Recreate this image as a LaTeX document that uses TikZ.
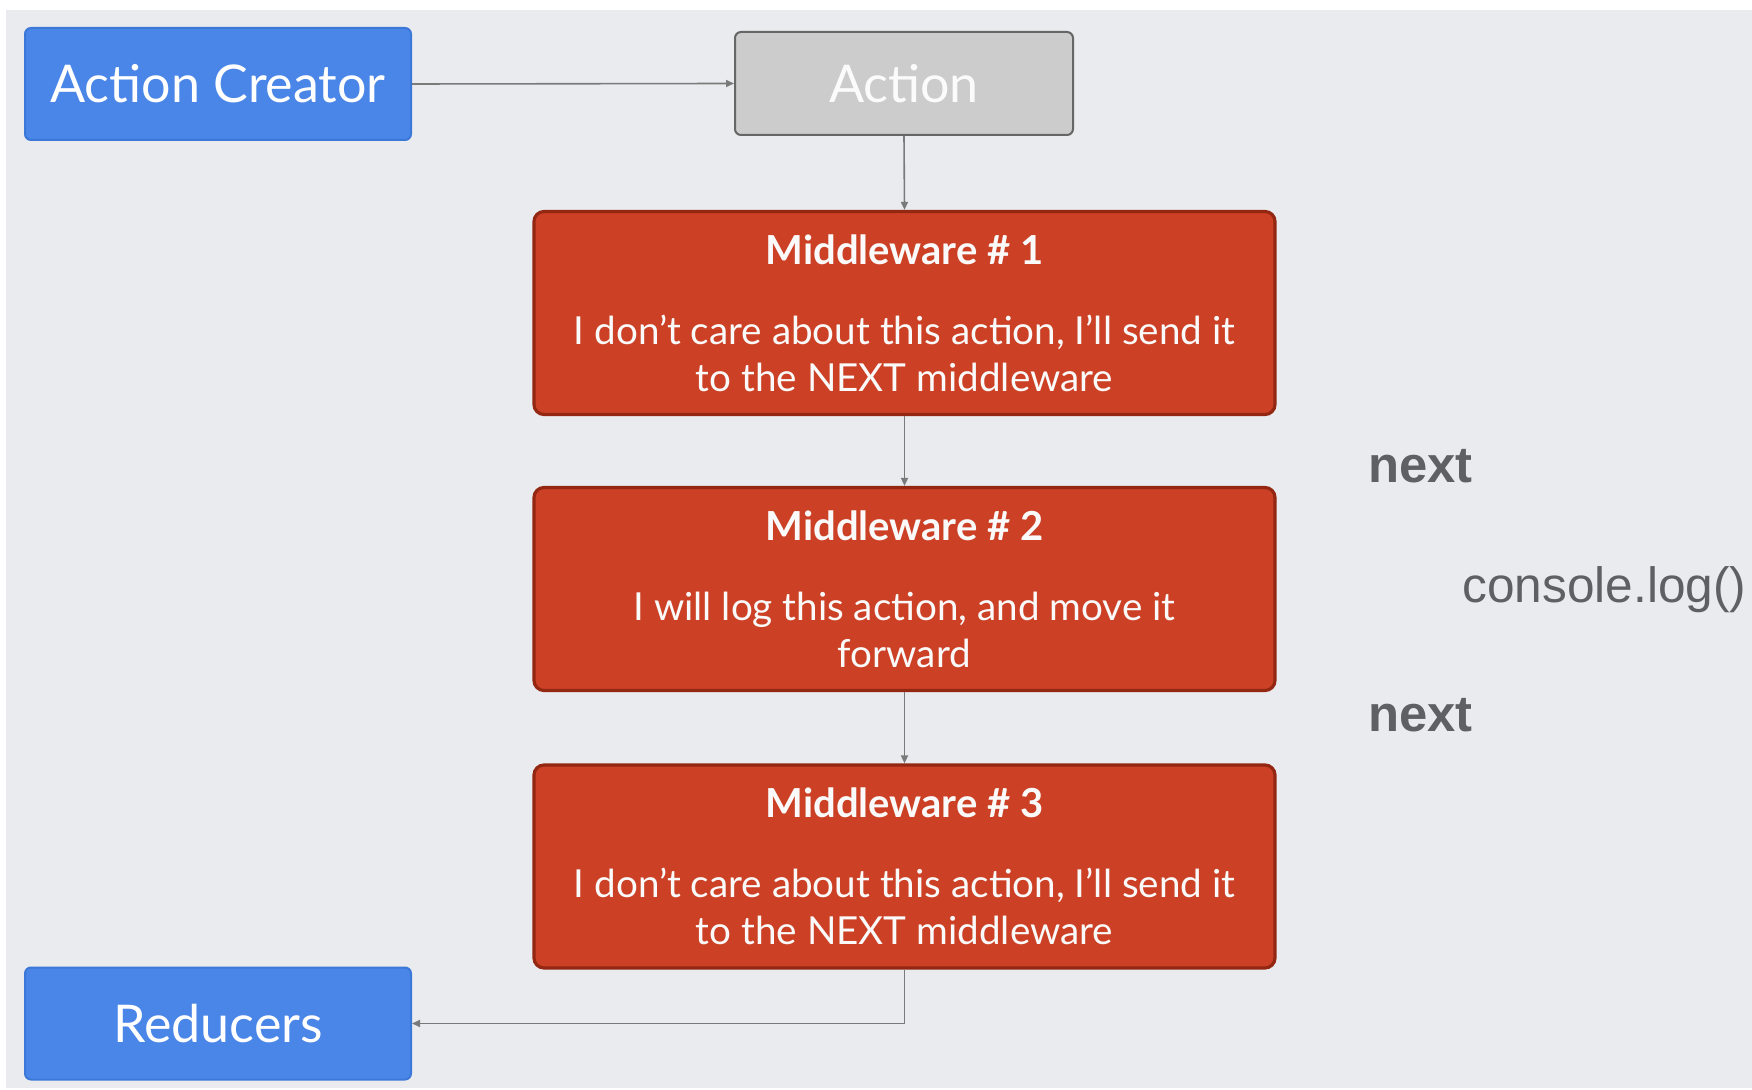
\documentclass[tikz,border=0pt]{standalone}
\usepackage{fontspec}
\setmainfont{Lato}
\newfontfamily\helv{Liberation Sans}
\usetikzlibrary{arrows.meta}
\definecolor{bg}{HTML}{E9EBEE}
\definecolor{gblue}{HTML}{4A86E8}
\definecolor{gblueb}{HTML}{3C78D8}
\definecolor{gred}{HTML}{CC4125}
\definecolor{gredb}{HTML}{85200C}
\definecolor{ggrey}{HTML}{CCCCCC}
\definecolor{ggreyb}{HTML}{666666}
\definecolor{lbl}{HTML}{5F6063}
\definecolor{conn}{HTML}{7A7A7A}
\tikzset{
  bluebox/.style={draw=gblueb, line width=1pt, fill=gblue, rounded corners=3pt, text=white,
    minimum width=193pt, minimum height=56pt, font=\fontsize{26}{30}\selectfont, inner sep=0pt},
  greybox/.style={draw=ggreyb, line width=1pt, fill=ggrey, rounded corners=3pt, text=white!97!gray,
    minimum width=169pt, minimum height=51.5pt, font=\fontsize{26}{30}\selectfont, inner sep=0pt},
  mwbox/.style={draw=gredb!80!gred, line width=1.6pt, fill=gred, rounded corners=5pt, text=white!96!gray,
    minimum width=370.5pt, minimum height=101.5pt, align=center, inner sep=0pt,
    font=\fontsize{19.3}{23.5}\selectfont},
  lab/.style={text=lbl, font=\helv\fontsize{24.8}{29}\selectfont, anchor=west, inner sep=0pt},
  boldlab/.style={lab, font=\helv\bfseries\fontsize{25.4}{30}\selectfont},
  conn/.style={draw=conn, line width=0.8pt, -{Triangle[length=4pt,width=3.5pt]}}
}
\newcommand{\mwt}[1]{{\fontsize{20}{24}\selectfont\bfseries #1}\\[16.5pt]}
\begin{document}
\begin{tikzpicture}[x=0.5pt,y=-0.5pt]
\fill[white] (0,0) rectangle (1752,1090);
\fill[bg] (6,10) rectangle (1752,1088);
\useasboundingbox (0,0) rectangle (1752,1090);
\node[bluebox] (ac) at (218,84) {Action Creator};
\node[greybox] (act) at (904,83.5) {Action};
\node[mwbox] (mw1) at (904.5,313) {\mwt{Middleware \# 1}I don’t care about this action, I’ll send it\\to the NEXT middleware};
\node[mwbox] (mw2) at (904.5,589) {\mwt{Middleware \# 2}I will log this action, and move it\\forward};
\node[mwbox] (mw3) at (904.5,866.5) {\mwt{Middleware \# 3}I don’t care about this action, I’ll send it\\to the NEXT middleware};
\node[bluebox] (red) at (218,1023.5) {Reducers};
\node[boldlab] (n1) at (1368,466) {next};
\node[lab] (cl) at (1462,590) {console.log()};
\node[boldlab] (n2) at (1368,715) {next};
\draw[conn] (ac.east) -- (act.west);
\draw[conn] (act.south) -- (mw1.north);
\draw[conn] (mw1.south) -- (mw2.north);
\draw[conn] (mw2.south) -- (mw3.north);
\draw[conn] (mw3.south) |- (red.east);
\end{tikzpicture}
\end{document}
